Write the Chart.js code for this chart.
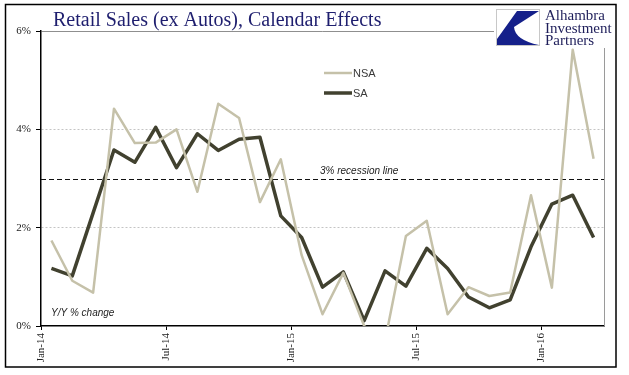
<!DOCTYPE html>
<html>
<head>
<meta charset="utf-8">
<script src="https://cdn.jsdelivr.net/npm/chart.js@4.4.1/dist/chart.umd.min.js"></script>
<style>
  html, body { margin: 0; padding: 0; background: #fff; }
  #wrap { width: 629px; height: 375px; }
</style>
</head>
<body>
<div id="wrap"><canvas id="chart" width="629" height="375"></canvas></div>
<script>
// months Jan-14 .. Mar-16, Y/Y % change
const months = ['Jan-14', 'Feb-14', 'Mar-14', 'Apr-14', 'May-14', 'Jun-14', 'Jul-14', 'Aug-14', 'Sep-14',
  'Oct-14', 'Nov-14', 'Dec-14', 'Jan-15', 'Feb-15', 'Mar-15', 'Apr-15', 'May-15', 'Jun-15', 'Jul-15',
  'Aug-15', 'Sep-15', 'Oct-15', 'Nov-15', 'Dec-15', 'Jan-16', 'Feb-16', 'Mar-16'];
const nsa = [1.74, 0.92, 0.68, 4.42, 3.72, 3.73, 4.00, 2.73, 4.52, 4.23, 2.52, 3.39,
  1.44, 0.24, 1.08, 0.0, -0.3, 1.83, 2.14, 0.24, 0.79, 0.61, 0.68, 2.66,
  0.78, 5.62, 3.40];
const sa = [1.17, 1.02, 2.30, 3.58, 3.33, 4.04, 3.22, 3.91, 3.57, 3.80, 3.84, 2.24,
  1.80, 0.79, 1.10, 0.11, 1.12, 0.81, 1.58, 1.17, 0.59, 0.37, 0.53, 1.61,
  2.48, 2.66, 1.80];
const xTickMonths = [0, 6, 12, 18, 24];
const xTickLabels = ['Jan-14', 'Jul-14', 'Jan-15', 'Jul-15', 'Jan-16'];
const yTicks = [0, 2, 4, 6];
const recessionLevel = 3;

const NSA_COLOR = '#c5c1a9';
const SA_COLOR = '#41412f';

const toPoints = (arr) => arr.map((v, i) => ({ x: i + 0.5, y: v }));

const decor = {
  id: 'decor',
  beforeDraw(chart) {
    const { ctx, width, height } = chart;
    ctx.save();
    ctx.fillStyle = '#fff';
    ctx.fillRect(0, 0, width, height);
    ctx.restore();
  },
  beforeDatasetsDraw(chart) {
    const { ctx, chartArea: a, scales: { y } } = chart;
    ctx.save();
    // right frame of the plot
    ctx.strokeStyle = '#9a9a9a';
    ctx.lineWidth = 1;
    ctx.beginPath();
    ctx.moveTo(Math.round(a.right) + 0.5, a.top);
    ctx.lineTo(Math.round(a.right) + 0.5, a.bottom);
    ctx.stroke();
    // 3% recession line
    const ry = Math.round(y.getPixelForValue(recessionLevel)) + 0.5;
    ctx.strokeStyle = '#111';
    ctx.lineWidth = 1.2;
    ctx.setLineDash([5, 3]);
    ctx.beginPath();
    ctx.moveTo(a.left, ry);
    ctx.lineTo(a.right, ry);
    ctx.stroke();
    ctx.setLineDash([]);
    ctx.fillStyle = '#222';
    ctx.font = 'italic 10px "Liberation Sans", Arial, sans-serif';
    ctx.textBaseline = 'alphabetic';
    ctx.fillText('3% recession line', 320, ry - 6);
    ctx.fillText('Y/Y % change', 51, a.bottom - 10);
    ctx.restore();
  },
  afterDraw(chart) {
    const { ctx } = chart;
    ctx.save();
    // title
    ctx.fillStyle = '#1e1e6e';
    ctx.font = '20px "Liberation Serif", "Times New Roman", serif';
    ctx.textBaseline = 'alphabetic';
    ctx.fillText('Retail Sales (ex Autos), Calendar Effects', 53, 26);

    // logo
    ctx.fillStyle = '#fff';
    ctx.fillRect(494, 6, 121, 42);
    ctx.strokeStyle = '#c8c8c8';
    ctx.lineWidth = 1;
    ctx.strokeRect(496.5, 9.5, 43, 36);
    ctx.fillStyle = '#15208a';
    ctx.beginPath();
    ctx.moveTo(517, 11);
    ctx.lineTo(539, 11);
    ctx.lineTo(514, 27);
    ctx.quadraticCurveTo(515, 40, 539, 45);
    ctx.lineTo(497, 45);
    ctx.lineTo(497, 39);
    ctx.closePath();
    ctx.fill();
    ctx.fillStyle = '#1e1e5a';
    ctx.font = '15px "Liberation Serif", "Times New Roman", serif';
    ctx.fillText('Alhambra', 545, 20);
    ctx.fillText('Investment', 545, 32.5);
    ctx.fillText('Partners', 545, 45);

    // legend
    ctx.font = '11px "Liberation Sans", Arial, sans-serif';
    ctx.textBaseline = 'middle';
    const items = [[73, 0], [93, 1]];
    items.forEach(([ly, i]) => {
      const ds = chart.data.datasets[i];
      ctx.strokeStyle = ds.borderColor;
      ctx.lineWidth = ds.borderWidth;
      ctx.beginPath();
      ctx.moveTo(324, ly);
      ctx.lineTo(352, ly);
      ctx.stroke();
      ctx.fillStyle = '#3a3a3a';
      ctx.fillText(ds.label, 353, ly + 1);
    });

    // outer frame
    ctx.strokeStyle = '#000';
    ctx.lineWidth = 1.5;
    ctx.strokeRect(5.5, 4.5, 610.5, 362.5);
    ctx.restore();
  }
};

new Chart(document.getElementById('chart'), {
  type: 'line',
  data: {
    datasets: [
      {
        label: 'NSA',
        data: toPoints(nsa),
        borderColor: NSA_COLOR,
        borderWidth: 2.5,
        clip: 0
      },
      {
        label: 'SA',
        data: toPoints(sa),
        borderColor: SA_COLOR,
        borderWidth: 3.5,
        clip: 0
      }
    ]
  },
  options: {
    responsive: false,
    animation: false,
    devicePixelRatio: 1,
    layout: { padding: { top: 31, right: 25, left: 0, bottom: 0 } },
    elements: {
      point: { radius: 0 },
      line: { tension: 0, borderJoinStyle: 'round', borderCapStyle: 'butt' }
    },
    plugins: {
      legend: { display: false },
      tooltip: { enabled: false },
      title: { display: false }
    },
    scales: {
      x: {
        type: 'linear',
        min: 0,
        max: months.length,
        afterBuildTicks: (scale) => {
          scale.ticks = xTickMonths.map((v) => ({ value: v }));
        },
        afterFit: (scale) => { scale.height = 49; },
        grid: {
          drawOnChartArea: false,
          drawTicks: true,
          tickLength: 4,
          tickColor: '#000',
          tickWidth: 1
        },
        border: { display: true, color: '#000', width: 1.5 },
        ticks: {
          autoSkip: false,
          minRotation: 90,
          maxRotation: 90,
          padding: 3,
          color: '#222',
          font: { family: '"Liberation Serif", "Times New Roman", serif', size: 11 },
          callback: (v) => xTickLabels[xTickMonths.indexOf(v)]
        }
      },
      y: {
        min: 0,
        max: 6,
        afterBuildTicks: (scale) => {
          scale.ticks = yTicks.map((v) => ({ value: v }));
        },
        afterFit: (scale) => { scale.width = 41; },
        grid: {
          color: (c) => {
            if (!c.tick || c.tick.value === 0) return 'rgba(0,0,0,0)';
            return c.tick.value === 6 ? '#8f8f8f' : '#c4c4c4';
          },
          lineWidth: 1,
          drawTicks: true,
          tickLength: 5,
          tickColor: '#000',
          tickWidth: 1
        },
        border: {
          display: true,
          color: '#000',
          width: 1.5,
          dash: (c) => (c.tick && (c.tick.value === 2 || c.tick.value === 4) ? [2, 2] : [])
        },
        ticks: {
          padding: 5,
          color: '#222',
          font: { family: '"Liberation Serif", "Times New Roman", serif', size: 11 },
          callback: (v) => v + '%'
        }
      }
    }
  },
  plugins: [decor]
});
</script>
</body>
</html>
